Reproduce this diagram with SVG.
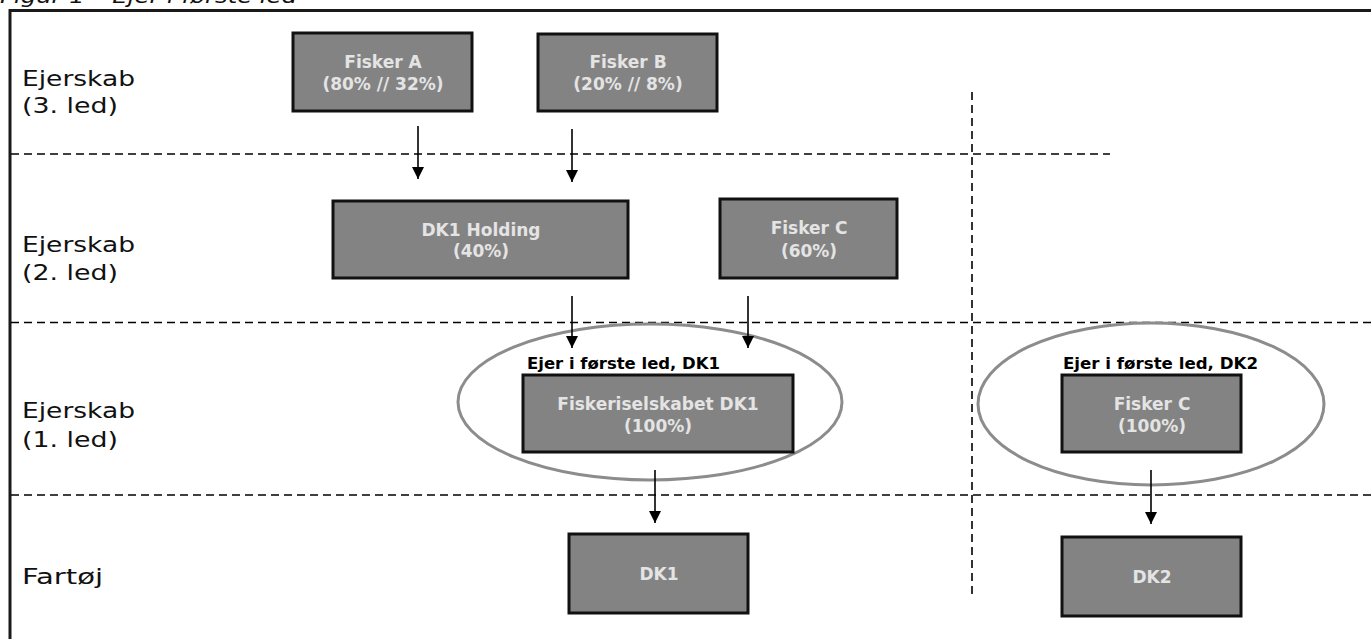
<svg xmlns="http://www.w3.org/2000/svg" width="1371" height="639" viewBox="0 0 1371 639">
<defs>
<style>
.frame{stroke:#1a1a1a;stroke-width:3;fill:none}
.dash{stroke:#000;stroke-width:1.6;stroke-dasharray:8 5;fill:none}
.box{fill:#838383;stroke:#111;stroke-width:3}
.oval{fill:none;stroke:#8c8c8c;stroke-width:3}
.bt{font-family:"DejaVu Sans",sans-serif;font-weight:bold;font-size:17px;fill:#e4e4e4;text-anchor:middle}
.lt{font-family:"DejaVu Sans",sans-serif;font-weight:bold;font-size:16px;fill:#000}
.row{font-family:"DejaVu Sans",sans-serif;font-size:21px;fill:#111}
.cap{font-family:"DejaVu Sans",sans-serif;font-style:italic;font-size:20px;fill:#111}
.arr{stroke:#000;stroke-width:1.6;fill:none;marker-end:url(#ah)}
</style>
<marker id="ah" markerUnits="userSpaceOnUse" markerWidth="12" markerHeight="12" viewBox="0 0 10 10" refX="10" refY="5" orient="auto">
<path d="M0,0 L10,5 L0,10 z" fill="#000"/>
</marker>
</defs>
<rect width="1371" height="639" fill="#fff"/>
<text class="cap" x="0" y="3" textLength="297" lengthAdjust="spacingAndGlyphs">Figur 1 – Ejer i første led</text>
<g id="frame">
<path class="frame" d="M10,639 L10,10.5 L1371,10.5"/>
</g>
<g id="gridlines">
<line class="dash" x1="11" y1="154" x2="1110" y2="154"/>
<line class="dash" x1="11" y1="322.5" x2="1371" y2="322.5"/>
<line class="dash" x1="11" y1="495" x2="1371" y2="495"/>
<line class="dash" x1="972" y1="92" x2="972" y2="596"/>
</g>
<g id="row-labels">
<text class="row" x="22" y="86" textLength="113" lengthAdjust="spacingAndGlyphs">Ejerskab</text>
<text class="row" x="22" y="113" textLength="96" lengthAdjust="spacingAndGlyphs">(3. led)</text>
<text class="row" x="22" y="252" textLength="113" lengthAdjust="spacingAndGlyphs">Ejerskab</text>
<text class="row" x="22" y="280" textLength="96" lengthAdjust="spacingAndGlyphs">(2. led)</text>
<text class="row" x="22" y="418" textLength="113" lengthAdjust="spacingAndGlyphs">Ejerskab</text>
<text class="row" x="22" y="447" textLength="96" lengthAdjust="spacingAndGlyphs">(1. led)</text>
<text class="row" x="22" y="584" textLength="81" lengthAdjust="spacingAndGlyphs">Fartøj</text>
</g>
<g id="oval-dk1">
<ellipse class="oval" cx="650" cy="402" rx="192" ry="78"/>
<text class="lt" x="527" y="369" textLength="193" lengthAdjust="spacingAndGlyphs">Ejer i første led, DK1</text>
</g>
<g id="oval-dk2">
<ellipse class="oval" cx="1151" cy="404" rx="173" ry="81"/>
<text class="lt" x="1063" y="369" textLength="195" lengthAdjust="spacingAndGlyphs">Ejer i første led, DK2</text>
</g>
<g id="fisker-a">
<rect class="box" x="293" y="33" width="179" height="78"/>
<text class="bt" x="383" y="68">Fisker A</text>
<text class="bt" x="383" y="90">(80% // 32%)</text>
</g>
<g id="fisker-b">
<rect class="box" x="538" y="34" width="179" height="77"/>
<text class="bt" x="628" y="68">Fisker B</text>
<text class="bt" x="628" y="90">(20% // 8%)</text>
</g>
<g id="dk1-holding">
<rect class="box" x="333" y="201" width="295" height="77"/>
<text class="bt" x="481" y="236">DK1 Holding</text>
<text class="bt" x="481" y="257">(40%)</text>
</g>
<g id="fisker-c-60">
<rect class="box" x="720" y="199" width="177" height="79"/>
<text class="bt" x="809" y="234">Fisker C</text>
<text class="bt" x="809" y="257">(60%)</text>
</g>
<g id="fiskeriselskabet-dk1">
<rect class="box" x="523" y="375" width="270" height="77"/>
<text class="bt" x="658" y="410">Fiskeriselskabet DK1</text>
<text class="bt" x="658" y="432">(100%)</text>
</g>
<g id="fisker-c-100">
<rect class="box" x="1062" y="375" width="179" height="77"/>
<text class="bt" x="1152" y="410">Fisker C</text>
<text class="bt" x="1152" y="432">(100%)</text>
</g>
<g id="dk1">
<rect class="box" x="569" y="534" width="179" height="79"/>
<text class="bt" x="659" y="580">DK1</text>
</g>
<g id="dk2">
<rect class="box" x="1062" y="537" width="179" height="79"/>
<text class="bt" x="1152" y="583">DK2</text>
</g>
<g id="connectors">
<line class="arr" x1="418" y1="126" x2="418" y2="179"/>
<line class="arr" x1="572" y1="129" x2="572" y2="182"/>
<line class="arr" x1="572" y1="296" x2="572" y2="348"/>
<line class="arr" x1="748" y1="296" x2="748" y2="348"/>
<line class="arr" x1="655" y1="470" x2="655" y2="523"/>
<line class="arr" x1="1151" y1="470" x2="1151" y2="524"/>
</g>
</svg>
